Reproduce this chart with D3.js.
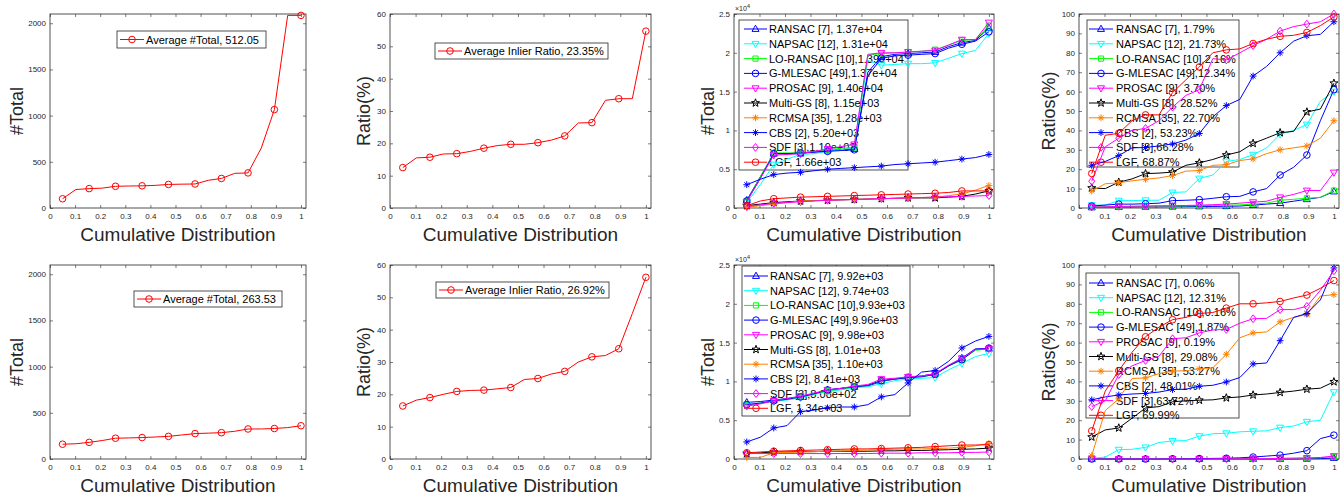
<!DOCTYPE html>
<html>
<head>
<meta charset="utf-8">
<script src="https://cdn.jsdelivr.net/npm/d3@7"></script>
<style>
  body { margin: 0; background: #fff; }
  svg { display: block; }
  text { font-family: "Liberation Sans", Arial, Helvetica, sans-serif; }
</style>
</head>
<body>
<div id="chart"></div>
<script>
// cumulative distribution positions (19 samples, a marker on every other one)
var xs = [0.05, 0.103, 0.156, 0.208, 0.261, 0.314, 0.367, 0.419, 0.472, 0.525,
          0.578, 0.631, 0.683, 0.736, 0.789, 0.842, 0.894, 0.947, 1.0];
var x_ticks = [0, 0.1, 0.2, 0.3, 0.4, 0.5, 0.6, 0.7, 0.8, 0.9, 1];

// top row, single series
var total_top = [100, 200, 210, 215, 235, 238, 240, 245, 255, 258, 260, 300, 320, 375, 380, 650, 1065, 2085, 2085];
var ratio_top = [12.5, 15.5, 15.7, 16.7, 16.8, 17.5, 18.5, 19.3, 19.7, 19.7, 20.2, 21.0, 22.3, 26.3, 26.4, 33.3, 33.8, 33.8, 54.7];
// bottom row, single series
var total_bottom = [160, 165, 180, 200, 225, 228, 232, 238, 245, 260, 275, 280, 285, 300, 325, 325, 330, 340, 360];
var ratio_bottom = [16.4, 18.2, 19.0, 20.0, 20.9, 21.2, 21.3, 21.7, 22.1, 24.6, 24.9, 26.3, 27.1, 30.0, 31.6, 32.0, 34.1, 45, 56.2];

var legend_total_top = "Average #Total, 512.05";
var legend_ratio_top = "Average Inlier Ratio, 23.35%";
var legend_total_bottom = "Average #Total, 263.53";
var legend_ratio_bottom = "Average Inlier Ratio, 26.92%";

var methods = ["RANSAC", "NAPSAC", "LO-RANSAC", "G-MLESAC", "PROSAC", "Multi-GS", "RCMSA", "CBS", "SDF", "LGF"];
var method_colors = ["#0000ff", "#00ffff", "#00ff00", "#0000ff", "#ff00ff", "#000000", "#ff8000", "#0000ff", "#ff00ff", "#ff0000"];
var method_markers = ["triUp", "triDown", "square", "circle", "triDown", "star", "asterisk", "asterisk", "diamond", "circle"];

// top row, per method: #Total
var methods_total_top = [
  [1000, 4000, 7000, 7000, 7000, 7200, 7400, 7500, 7600, 17500, 19500, 19800, 19900, 20000, 20100, 20800, 21300, 21600, 23200],
  [700, 3000, 5600, 6300, 6900, 7000, 7300, 7500, 7800, 19000, 18400, 18500, 18600, 18600, 18700, 19300, 19900, 20300, 22500],
  [900, 4000, 7100, 7100, 7100, 7300, 7500, 7700, 7800, 19700, 19900, 20000, 20100, 20200, 20400, 21000, 21600, 21700, 23500],
  [900, 3800, 7000, 7000, 7100, 7200, 7300, 7400, 7500, 17000, 19300, 19600, 19700, 19800, 19900, 20600, 21100, 21500, 22700],
  [800, 3800, 6800, 6900, 7000, 7300, 7600, 7900, 8200, 19800, 20000, 20000, 20100, 20200, 20300, 21000, 21700, 21700, 23900],
  [300, 500, 700, 800, 900, 950, 1000, 1050, 1100, 1150, 1200, 1250, 1300, 1300, 1300, 1400, 1500, 1800, 2200],
  [100, 300, 500, 700, 900, 950, 1000, 1050, 1100, 1150, 1200, 1250, 1300, 1350, 1400, 1600, 1800, 2300, 2900],
  [3000, 3700, 4300, 4500, 4600, 4800, 5000, 5100, 5200, 5300, 5400, 5600, 5700, 5800, 5900, 6100, 6300, 6500, 6900],
  [200, 400, 600, 700, 800, 900, 1000, 1050, 1100, 1150, 1200, 1250, 1300, 1350, 1400, 1450, 1500, 1550, 1600],
  [300, 900, 1200, 1300, 1400, 1450, 1500, 1550, 1600, 1650, 1700, 1750, 1800, 1850, 1900, 2000, 2200, 2200, 2200]
];
var legend_methods_total_top = ["RANSAC [7], 1.37e+04", "NAPSAC [12], 1.31e+04", "LO-RANSAC [10],1.39e+04",
  "G-MLESAC [49],1.37e+04", "PROSAC [9], 1.40e+04", "Multi-GS [8], 1.15e+03", "RCMSA [35], 1.28e+03",
  "CBS [2], 5.20e+03", "SDF [3],1.19e+03", "LGF, 1.66e+03"];

// top row, per method: ratio (%)
var methods_ratio_top = [
  [0.3, 0.4, 0.5, 0.5, 0.6, 0.6, 0.7, 0.7, 0.8, 0.8, 0.9, 1.0, 1.5, 2.0, 2.5, 3.5, 4.5, 5.5, 8.5],
  [1.5, 1.5, 3.8, 3.8, 4.0, 4.0, 8.0, 8.3, 15.2, 17, 24, 25, 27.5, 31, 38, 40, 43, 55, 60],
  [0.5, 0.6, 0.8, 0.8, 0.9, 1.0, 1.0, 1.1, 1.2, 1.3, 1.4, 1.6, 2.0, 2.5, 4.0, 4.5, 5.0, 5.5, 9.0],
  [1.0, 1.5, 2.0, 2.0, 2.2, 2.5, 3.8, 4.0, 4.3, 5.0, 5.8, 6.0, 8.3, 10, 17, 21, 27.3, 45, 61],
  [0.5, 0.6, 0.8, 0.9, 1.0, 1.1, 1.2, 1.3, 1.5, 1.7, 2.0, 2.5, 3.0, 3.5, 5.5, 7, 9, 9, 18.3],
  [10.3, 10, 13.3, 15, 17.7, 18, 18.5, 22, 23.3, 25, 27.3, 29, 33.3, 36, 38.8, 39.5, 49.5, 51, 64.3],
  [8.7, 12.5, 13, 14, 14.8, 15.5, 16.7, 19, 19.3, 22, 22.3, 24.5, 25.3, 28, 30, 31, 32, 36, 45],
  [22, 24, 27, 31, 31.2, 32, 33, 35, 38.4, 47, 52.8, 56, 68, 73, 80, 86, 88.8, 89.5, 96],
  [13.8, 31.5, 36, 40, 41, 45, 52, 58, 61, 77, 76.3, 80, 83.7, 87, 91.2, 93.5, 94.8, 96, 100],
  [17.8, 37.5, 38.5, 45, 48, 48, 59.5, 66, 72.7, 80, 81.5, 82, 84.8, 87, 88.5, 89, 90.5, 94, 98.5]
];
var legend_methods_ratio_top = ["RANSAC [7], 1.79%", "NAPSAC [12], 21.73%", "LO-RANSAC [10],2.16%",
  "G-MLESAC [49],12.34%", "PROSAC [9], 3.70%", "Multi-GS [8], 28.52%", "RCMSA [35], 22.70%",
  "CBS [2], 53.23%", "SDF [3],66.28%", "LGF, 68.87%"];

// bottom row, per method: #Total
var methods_total_bottom = [
  [7300, 7400, 7600, 7800, 8000, 8400, 8900, 9100, 9300, 9400, 10000, 10300, 10500, 10700, 11000, 12000, 13000, 14200, 14200],
  [7000, 7200, 7400, 7600, 7900, 8300, 8700, 8900, 9200, 9300, 9700, 10100, 10300, 10400, 10500, 11500, 12300, 13200, 13600],
  [7000, 7200, 7500, 7700, 8000, 8400, 8800, 9000, 9300, 9500, 10100, 10300, 10500, 10600, 10900, 12000, 12800, 14000, 14200],
  [7000, 7200, 7500, 7700, 8000, 8400, 8900, 9100, 9300, 9500, 10100, 10300, 10500, 10600, 10900, 12000, 12800, 14100, 14300],
  [6800, 7100, 7500, 7800, 8100, 8500, 8900, 9100, 9400, 9600, 10300, 10400, 10600, 10700, 11000, 12100, 13000, 14100, 14200],
  [700, 800, 900, 900, 950, 950, 1000, 1000, 1000, 1000, 1050, 1050, 1100, 1100, 1150, 1200, 1250, 1300, 1400],
  [200, 200, 800, 850, 900, 950, 1000, 1050, 1100, 1150, 1200, 1250, 1300, 1300, 1350, 1400, 1500, 1700, 2000],
  [2200, 2800, 4000, 4300, 6100, 6300, 6600, 6700, 6700, 7000, 8000, 8300, 9800, 11200, 11400, 12600, 14300, 15200, 15800],
  [700, 700, 700, 700, 700, 700, 700, 700, 700, 700, 750, 750, 750, 800, 800, 800, 850, 850, 900],
  [800, 900, 1000, 1050, 1100, 1150, 1200, 1250, 1300, 1300, 1350, 1400, 1450, 1500, 1600, 1700, 1800, 1800, 1850]
];
var legend_methods_total_bottom = ["RANSAC [7], 9.92e+03", "NAPSAC [12], 9.74e+03", "LO-RANSAC [10],9.93e+03",
  "G-MLESAC [49],9.96e+03", "PROSAC [9], 9.98e+03", "Multi-GS [8], 1.01e+03", "RCMSA [35], 1.10e+03",
  "CBS [2], 8.41e+03", "SDF [3],8.08e+02", "LGF, 1.34e+03"];

// bottom row, per method: ratio (%)
var methods_ratio_bottom = [
  [0, 0, 0, 0, 0, 0, 0, 0, 0, 0, 0, 0, 0, 0, 0, 0, 0.1, 0.2, 0.5],
  [0.3, 1, 4.8, 5, 6, 8.5, 9.3, 9.5, 11.8, 13, 13.3, 14, 14.3, 14.5, 16.2, 17, 19.2, 20, 34.5],
  [0, 0, 0, 0, 0, 0, 0, 0, 0.1, 0.1, 0.1, 0.1, 0.2, 0.2, 0.3, 0.4, 0.5, 0.7, 1.0],
  [0, 0, 0, 0, 0, 0, 0.1, 0.1, 0.2, 0.3, 0.4, 0.6, 1.0, 1.5, 2.0, 3, 4.3, 10.5, 12.3],
  [0, 0, 0, 0, 0, 0, 0, 0, 0, 0.1, 0.1, 0.1, 0.2, 0.2, 0.3, 0.4, 0.5, 0.8, 1.5],
  [11.3, 15, 16, 21, 26.3, 27, 29.5, 30, 30.3, 30.5, 31.5, 32, 33, 33.5, 34.3, 35, 36, 36.5, 39.8],
  [1.7, 25, 31, 41.5, 41.8, 44, 45.3, 45.5, 46.5, 47, 54, 62.5, 65, 65.5, 70.7, 73, 74.5, 84, 84.7],
  [30.5, 32, 33, 33.5, 33.8, 34.5, 35.8, 36, 37.5, 38, 39.7, 42, 49, 49.5, 61, 73, 75, 82, 98.5],
  [27, 30, 43.5, 48, 50.8, 53, 62, 62.5, 65, 66.5, 66.8, 70, 72.3, 72.5, 77, 77, 78.7, 87, 97],
  [14.5, 35, 45.5, 55, 63, 68, 71.8, 73, 75, 75.5, 77.8, 80, 80, 80.5, 81.2, 83, 84.5, 88, 92]
];
var legend_methods_ratio_bottom = ["RANSAC [7], 0.06%", "NAPSAC [12], 12.31%", "LO-RANSAC [10],0.16%",
  "G-MLESAC [49],1.87%", "PROSAC [9], 0.19%", "Multi-GS [8], 29.08%", "RCMSA [35], 53.27%",
  "CBS [2], 48.01%", "SDF [3],63.72%", "LGF, 69.99%"];

var total_ticks = [0, 500, 1000, 1500, 2000];
var ratio_ticks = [0, 10, 20, 30, 40, 50, 60];
var big_total_ticks = [0, 5000, 10000, 15000, 20000, 25000];
var pct_ticks = [0, 10, 20, 30, 40, 50, 60, 70, 80, 90, 100];

// ---------------------------------------------------------------
var W = 1343, H = 498;
var axisColor = "#262626";

var svg = d3.select("#chart").append("svg")
    .attr("width", W)
    .attr("height", H)

svg.append("rect").attr("width", W).attr("height", H).attr("fill", "#fff")

var cols = [{ l: 50, r: 306 }, { l: 390, r: 651 }, { l: 734, r: 994 }, { l: 1079, r: 1339 }];
var rows = [{ t: 14, b: 208 }, { t: 265, b: 459 }];

// marker shapes (open, MATLAB-like)
function markerPath(type) {
    if (type == "circle") return "M3.3,0A3.3,3.3 0 1 1 -3.3,0A3.3,3.3 0 1 1 3.3,0Z";
    if (type == "triUp") return "M0,-3.8L3.5,2.4L-3.5,2.4Z";
    if (type == "triDown") return "M0,3.8L3.5,-2.4L-3.5,-2.4Z";
    if (type == "square") return "M-2.6,-2.6H2.6V2.6H-2.6Z";
    if (type == "diamond") return "M0,-3.9L3,0L0,3.9L-3,0Z";
    if (type == "asterisk") return "M-3.4,0H3.4M0,-3.4V3.4M-2.4,-2.4L2.4,2.4M-2.4,2.4L2.4,-2.4";
    if (type == "star") {
        var p = [];
        for (var i = 0; i < 10; i++) {
            var rr = i % 2 == 0 ? 4.2 : 1.7;
            var a = -Math.PI / 2 + i * Math.PI / 5;
            p.push([rr * Math.cos(a), rr * Math.sin(a)]);
        }
        return "M" + p.map(function(d) { return d[0].toFixed(2) + "," + d[1].toFixed(2) }).join("L") + "Z";
    }
    return "";
}

function drawPanel(ci, ri, yMax, yTicks, yFmt, ylabel, ylabelOff, series, colors, markers, legend, multiplier) {
    var c = cols[ci], r = rows[ri];
    var x = d3.scaleLinear().domain([0, 1.02]).range([c.l, c.r]);
    var y = d3.scaleLinear().domain([0, yMax]).range([r.b, r.t]);
    var g = svg.append("g");

    // axes (ticks pointing inward, mirrored on top / right)
    var ax = g.append("g").attr("transform", "translate(0," + r.b + ")")
        .call(d3.axisBottom(x).tickValues(x_ticks).tickSize(-3).tickPadding(5).tickFormat(d3.format("")));
    var ay = g.append("g").attr("transform", "translate(" + c.l + ",0)")
        .call(d3.axisLeft(y).tickValues(yTicks).tickSize(-3).tickPadding(4).tickFormat(yFmt));
    var at = g.append("g").attr("transform", "translate(0," + r.t + ")")
        .call(d3.axisTop(x).tickValues(x_ticks).tickSize(-3).tickFormat(""));
    var ar = g.append("g").attr("transform", "translate(" + c.r + ",0)")
        .call(d3.axisRight(y).tickValues(yTicks).tickSize(-3).tickFormat(""));
    [ax, ay, at, ar].forEach(function(a) {
        a.select(".domain").remove();
        a.selectAll("line").attr("stroke", axisColor).attr("stroke-width", 0.6);
        a.selectAll("text").attr("fill", axisColor).style("font-size", "8px");
    });

    g.append("rect")
        .attr("x", c.l).attr("y", r.t)
        .attr("width", c.r - c.l).attr("height", r.b - r.t)
        .attr("fill", "none").attr("stroke", axisColor).attr("stroke-width", 0.8)

    if (multiplier) {
        var mt = g.append("text").attr("x", c.l + 1).attr("y", r.t - 3)
            .attr("fill", axisColor).style("font-size", "7px").text("\u00d710");
        mt.append("tspan").attr("dy", -3).style("font-size", "5.5px").text("4");
    }

    // axis labels
    g.append("text")
        .attr("x", (c.l + c.r) / 2).attr("y", r.b + 33)
        .attr("text-anchor", "middle")
        .attr("fill", axisColor)
        .style("font-size", "19px")
        .text("Cumulative Distribution")
    g.append("text")
        .attr("transform", "translate(" + (c.l - ylabelOff) + "," + ((r.t + r.b) / 2) + ") rotate(-90)")
        .attr("text-anchor", "middle")
        .attr("fill", axisColor)
        .style("font-size", "18px")
        .text(ylabel)

    // legend box (drawn under the lines)
    var lg = g.append("g");
    lg.append("rect")
        .attr("x", legend.x).attr("y", legend.y)
        .attr("width", legend.w).attr("height", legend.h)
        .attr("fill", "#fff").attr("stroke", axisColor).attr("stroke-width", 0.8)
    legend.labels.forEach(function(lab, i) {
        var cy = legend.first + i * legend.step;
        lg.append("line")
            .attr("x1", legend.sx).attr("x2", legend.sx + legend.sw)
            .attr("y1", cy).attr("y2", cy)
            .attr("stroke", colors[i]).attr("stroke-width", 1)
        lg.append("path")
            .attr("d", markerPath(markers[i]))
            .attr("transform", "translate(" + (legend.sx + legend.sw / 2) + "," + cy + ")")
            .attr("fill", "none").attr("stroke", colors[i]).attr("stroke-width", 1)
        lg.append("text")
            .attr("x", legend.tx).attr("y", cy + 4)
            .attr("fill", "#000")
            .style("font-size", "11px")
            .text(lab)
    });

    var line = d3.line()
        .x(function(d, i) { return x(xs[i]) })
        .y(function(d) { return y(d) });

    series.forEach(function(s, k) {
        g.append("path")
            .datum(s)
            .attr("d", line)
            .attr("fill", "none")
            .attr("stroke", colors[k])
            .attr("stroke-width", 1)
        g.selectAll(".m" + k)
            .data(s.filter(function(d, i) { return i % 2 == 0 }))
            .enter()
            .append("path")
            .attr("d", markerPath(markers[k]))
            .attr("transform", function(d, i) { return "translate(" + x(xs[i * 2]) + "," + y(d) + ")" })
            .attr("fill", "none")
            .attr("stroke", colors[k])
            .attr("stroke-width", 1)
    });
}

var plainFmt = d3.format("");
var e4Fmt = function(v) { return d3.format("")(v / 10000) };

// top row
drawPanel(0, 0, 2100, total_ticks, plainFmt, "#Total", 27, [total_top], ["#ff0000"], ["circle"],
    { x: 117, y: 31, w: 149, h: 17, first: 39.5, step: 0, sx: 120, sw: 24, tx: 146, labels: [legend_total_top] });
drawPanel(1, 0, 60, ratio_ticks, plainFmt, "Ratio(%)", 20, [ratio_top], ["#ff0000"], ["circle"],
    { x: 435, y: 43, w: 173, h: 16, first: 51, step: 0, sx: 438, sw: 24, tx: 464, labels: [legend_ratio_top] });
drawPanel(2, 0, 25000, big_total_ticks, e4Fmt, "#Total", 20, methods_total_top, method_colors, method_markers,
    { x: 739, y: 20, w: 169, h: 150, first: 29, step: 14.8, sx: 744, sw: 23, tx: 769, labels: legend_methods_total_top }, true);
drawPanel(3, 0, 100, pct_ticks, plainFmt, "Ratios(%)", 24, methods_ratio_top, method_colors, method_markers,
    { x: 1087, y: 20, w: 152, h: 147, first: 29, step: 14.8, sx: 1089, sw: 24, tx: 1116, labels: legend_methods_ratio_top });

// bottom row
drawPanel(0, 1, 2100, total_ticks, plainFmt, "#Total", 27, [total_bottom], ["#ff0000"], ["circle"],
    { x: 134, y: 291, w: 148, h: 16, first: 299, step: 0, sx: 137, sw: 24, tx: 163, labels: [legend_total_bottom] });
drawPanel(1, 1, 60, ratio_ticks, plainFmt, "Ratio(%)", 20, [ratio_bottom], ["#ff0000"], ["circle"],
    { x: 436, y: 282, w: 173, h: 16, first: 290, step: 0, sx: 439, sw: 24, tx: 465, labels: [legend_ratio_bottom] });
drawPanel(2, 1, 25000, big_total_ticks, e4Fmt, "#Total", 20, methods_total_bottom, method_colors, method_markers,
    { x: 742, y: 266, w: 168, h: 150, first: 276, step: 14.7, sx: 744, sw: 24, tx: 770, labels: legend_methods_total_bottom }, true);
drawPanel(3, 1, 100, pct_ticks, plainFmt, "Ratios(%)", 24, methods_ratio_bottom, method_colors, method_markers,
    { x: 1086, y: 273, w: 153, h: 145, first: 283, step: 14.7, sx: 1089, sw: 24, tx: 1116, labels: legend_methods_ratio_bottom });
</script>
</body>
</html>
